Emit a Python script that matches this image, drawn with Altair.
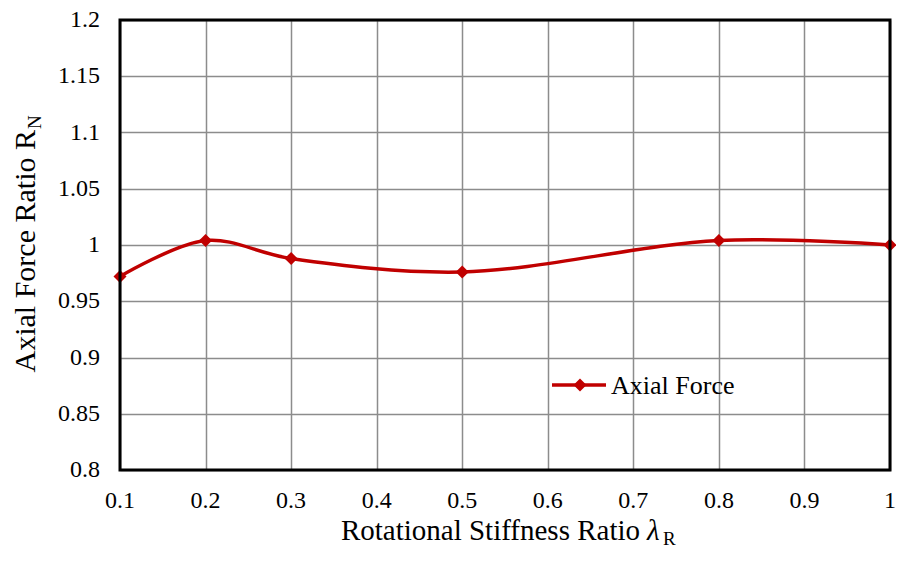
import altair as alt
import pandas as pd

# Data
stiffness_ratio = [0.1, 0.2, 0.3, 0.5, 0.8, 1.0]
axial_force_ratio = [0.972, 1.004, 0.988, 0.976, 1.004, 1.000]
x_ticks = [0.1, 0.2, 0.3, 0.4, 0.5, 0.6, 0.7, 0.8, 0.9, 1.0]
x_tick_labels = ["0.1", "0.2", "0.3", "0.4", "0.5", "0.6", "0.7", "0.8", "0.9", "1"]
y_ticks = [0.8, 0.85, 0.9, 0.95, 1.0, 1.05, 1.1, 1.15, 1.2]
y_tick_labels = ["0.8", "0.85", "0.9", "0.95", "1", "1.05", "1.1", "1.15", "1.2"]
series_name = "Axial Force"

df = pd.DataFrame({"x": stiffness_ratio, "y": axial_force_ratio})
xt_df = pd.DataFrame({"v": x_ticks, "lab": x_tick_labels})
yt_df = pd.DataFrame({"v": y_ticks, "lab": y_tick_labels})

FONT = "Liberation Serif"
RED = "#C00000"
W, H = 770, 450

xs = alt.Scale(domain=[0.1, 1.0], nice=False, zero=False)
ys = alt.Scale(domain=[0.8, 1.2], nice=False, zero=False)

x_axis = alt.Axis(values=x_ticks, title=None, grid=True, labels=False,
                  gridColor="#8c8c8c", gridWidth=1.5, domain=False, ticks=False)
y_axis = alt.Axis(values=y_ticks, title=None, grid=True, labels=False,
                  gridColor="#8c8c8c", gridWidth=1.5, domain=False, ticks=False)

base = alt.Chart(df)
line = base.mark_line(color=RED, strokeWidth=3.5, interpolate="catmull-rom").encode(
    x=alt.X("x:Q", scale=xs, axis=x_axis),
    y=alt.Y("y:Q", scale=ys, axis=y_axis),
)
pts = base.mark_point(shape="diamond", filled=True, color=RED, size=170, opacity=1).encode(
    x=alt.X("x:Q", scale=xs), y=alt.Y("y:Q", scale=ys)
)

# Tick labels (serif), positioned through the scales
x_labels = alt.Chart(xt_df).mark_text(
    font=FONT, fontSize=24, align="center", baseline="middle", color="black").encode(
    x=alt.X("v:Q", scale=xs), y=alt.value(H + 31), text="lab:N")
y_labels = alt.Chart(yt_df).mark_text(
    font=FONT, fontSize=24, align="right", baseline="middle", color="black").encode(
    x=alt.value(-20), y=alt.Y("v:Q", scale=ys), text="lab:N")

one = pd.DataFrame({"k": [0]})

# Plot frame
frame = alt.Chart(one).mark_rect(fill=None, stroke="black", strokeWidth=3).encode(
    x=alt.value(0), x2=alt.value(W), y=alt.value(0), y2=alt.value(H))

# Legend (manual)
leg_line = alt.Chart(one).mark_rule(color=RED, strokeWidth=3.5).encode(
    x=alt.value(432), x2=alt.value(486), y=alt.value(365))
leg_pt = alt.Chart(one).mark_point(
    shape="diamond", filled=True, color=RED, size=170, opacity=1).encode(
    x=alt.value(460), y=alt.value(365))
leg_txt = alt.Chart(pd.DataFrame({"t": [series_name]})).mark_text(
    font=FONT, fontSize=26, align="left", baseline="middle", color="black").encode(
    x=alt.value(491), y=alt.value(366), text="t:N")

# Axis titles (manual, with subscripts)
XT_BASE = 520
xt_main = alt.Chart(pd.DataFrame({"t": ["Rotational Stiffness Ratio"]})).mark_text(
    font=FONT, fontSize=29, align="right", baseline="alphabetic", color="black").encode(
    x=alt.value(520), y=alt.value(XT_BASE), text="t:N")
xt_lam = alt.Chart(pd.DataFrame({"t": ["λ"]})).mark_text(
    font=FONT, fontSize=29, fontStyle="italic", align="left", baseline="alphabetic",
    color="black").encode(x=alt.value(527), y=alt.value(XT_BASE), text="t:N")
xt_sub = alt.Chart(pd.DataFrame({"t": ["R"]})).mark_text(
    font=FONT, fontSize=19, align="left", baseline="alphabetic", color="black").encode(
    x=alt.value(543), y=alt.value(XT_BASE + 5), text="t:N")

YT_X = -85
YT_Y = 110
yt_main = alt.Chart(pd.DataFrame({"t": ["Axial Force Ratio R"]})).mark_text(
    font=FONT, fontSize=30, align="right", baseline="alphabetic", angle=270,
    color="black").encode(x=alt.value(YT_X), y=alt.value(YT_Y), text="t:N")
yt_sub = alt.Chart(pd.DataFrame({"t": ["N"]})).mark_text(
    font=FONT, fontSize=19, align="left", baseline="alphabetic", angle=270,
    color="black").encode(x=alt.value(YT_X + 6), y=alt.value(YT_Y - 1), text="t:N")

chart = alt.layer(line, pts, frame, x_labels, y_labels, leg_line, leg_pt, leg_txt,
                  xt_main, xt_lam, xt_sub, yt_main, yt_sub).properties(
    width=W, height=H,
    autosize=alt.AutoSizeParams(type="none"),
    padding={"left": 112, "top": 12, "right": 6, "bottom": 78},
).configure_view(stroke=None).configure(background="white", font=FONT)

chart.save("out.html", embed_options={"renderer": "svg", "actions": False})
